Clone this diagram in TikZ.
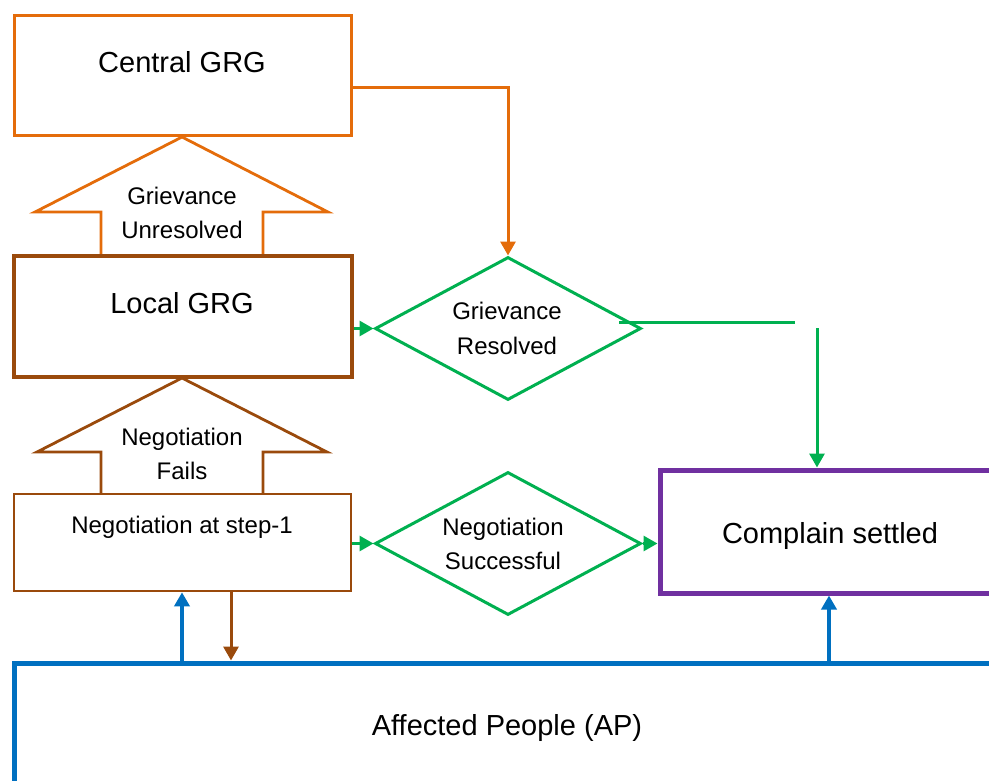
\documentclass[tikz,border=0pt]{standalone}
\usepackage{fontspec}
\setmainfont{Liberation Sans}
\usetikzlibrary{arrows.meta,shapes.geometric}
\definecolor{cOrange}{HTML}{E46C0A}
\definecolor{cBrown}{HTML}{9A4A0C}
\definecolor{cGreen}{HTML}{00B050}
\definecolor{cPurple}{HTML}{7030A0}
\definecolor{cBlue}{HTML}{0070C0}
\begin{document}
\begin{tikzpicture}[x=1pt,y=-1pt,
  bigtext/.style={font=\fontsize{29}{34}\selectfont, inner sep=0pt},
  smalltext/.style={font=\fontsize{24}{34.5}\selectfont, align=center, inner sep=0pt},
  boxnode/.style={draw, fill=white, inner sep=0pt},
  decision/.style={diamond, draw=cGreen, line width=3pt, fill=white, inner sep=0pt,
    minimum width=266pt, minimum height=143pt},
  tip/.style={-{Triangle[length=14pt,width=15pt]}},
  blockarrow/.style={line width=2.8pt, fill=white, line join=miter}
]
\useasboundingbox (0,0) rectangle (989,780);
\clip (0,0) rectangle (989,780);

% block arrows (drawn first, boxes cover their bottoms)
\draw[blockarrow, draw=cOrange] (182,137) -- (328,212) -- (263,212) -- (263,256)
  -- (101,256) -- (101,212) -- (35,212) -- cycle;
\node[smalltext] (unres) at (182,213) {Grievance\\Unresolved};

\draw[blockarrow, draw=cBrown] (182,378) -- (327,452) -- (263,452) -- (263,495)
  -- (101,495) -- (101,452) -- (37,452) -- cycle;
\node[smalltext] (fails) at (182,454) {Negotiation\\Fails};

% boxes
\node[boxnode, draw=cOrange, line width=3pt, minimum width=337pt, minimum height=120pt]
  (central) at (182.5,75) {};
\node[bigtext] (centralt) at (182,62) {Central GRG};

\node[boxnode, draw=cBrown, line width=4.5pt, minimum width=338pt, minimum height=121pt]
  (local) at (183,316.5) {};
\node[bigtext] (localt) at (182,303) {Local GRG};

\node[boxnode, draw=cBrown, line width=2.6pt, minimum width=337pt, minimum height=97pt]
  (nego) at (182.5,542.5) {};
\node[smalltext] (negot) at (182,527) {Negotiation at step-1};

\node[boxnode, draw=cPurple, line width=5pt, minimum width=340pt, minimum height=123pt]
  (settled) at (830,531.5) {};
\node[bigtext] (settledt) at (830,536) {Complain settled};

\node[boxnode, draw=cBlue, line width=5pt, minimum width=986pt, minimum height=130pt]
  (ap) at (507,728) {};
\node[bigtext] (apt) at (507,728) {Affected People (AP)};

% decisions
\node[decision] (gres) at (508,328.5) {};
\node[smalltext] (grest) at (507,328.5) {Grievance\\Resolved};
\node[decision] (nsucc) at (508,543.5) {};
\node[smalltext] (nsucct) at (503,544) {Negotiation\\Successful};

% connectors
\coordinate (oc1) at (508,87);
\draw[cOrange, line width=3pt, tip] (central.east |- oc1) -- (oc1) -- (gres.north);

\draw[cGreen, line width=3pt, tip] (local.east |- gres.west) -- (gres.west);
\draw[cGreen, line width=3pt, tip] (nego.east |- nsucc.west) -- (nsucc.west);
\draw[cGreen, line width=3pt, tip] (nsucc.east) -- (settled.west |- nsucc.east);

\coordinate (g1) at (619,322);
\coordinate (g2) at (795,322);
\coordinate (g3) at (817,328);
\draw[cGreen, line width=3pt] (g1) -- (g2);
\draw[cGreen, line width=3pt, tip] (g3) -- (settled.north -| g3);

\coordinate (b1) at (182,661);
\coordinate (b2) at (231,592);
\coordinate (b3) at (829,661);
\draw[cBlue, line width=3.5pt, tip] (b1) -- (nego.south -| b1);
\draw[cBrown, line width=3pt, tip] (b2) -- (ap.north -| b2);
\draw[cBlue, line width=4pt, tip] (b3) -- (settled.south -| b3);
\end{tikzpicture}
\end{document}
